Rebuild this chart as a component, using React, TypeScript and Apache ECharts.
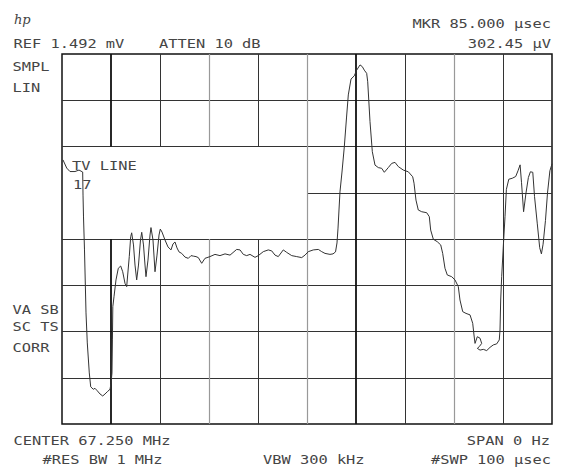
import React, { useEffect, useRef } from "react";
import * as echarts from "echarts";

// Instrument settings
const REF_UV = 1492; // reference level, µV (top of screen)
const SWEEP_US = 100; // sweep time, µs
const Y_DIV_COUNT = 8;
const X_DIVS = [10, 20, 30, 40, 50, 60, 70, 80, 90];
const Y_DIVS = [1, 2, 3, 4, 5, 6, 7];

// Trace: time (µs) and level (µV)
const timeUs = [
  0.2, 0.96, 1.63, 2.65, 3.47, 4.22, 4.29, 4.39, 4.59, 4.9, 5.16, 5.57, 5.86, 6.39, 6.73, 7.2, 7.76, 8.31, 8.78, 9.24,
  9.8, 10.0, 10.2, 10.29, 10.37, 10.61, 11.02, 11.49, 11.98, 12.39, 12.86, 13.2, 13.73, 14.02, 14.22, 14.59, 14.9, 15.24,
  15.61, 16.02, 16.27, 16.63, 16.94, 17.14, 17.55, 17.96, 18.16, 18.57, 18.98, 19.39, 19.8, 20.06, 20.41, 21.02, 21.63,
  22.24, 22.65, 23.06, 23.47, 23.88, 24.43, 25.1, 25.78, 26.33, 26.8, 27.35, 27.82, 28.51, 29.18, 30.2, 31.22, 32.24,
  33.27, 34.29, 35.65, 36.33, 37.0, 37.69, 38.37, 39.39, 40.06, 41.08, 42.1, 42.8, 43.47, 44.14, 45.16, 45.86, 46.88,
  47.9, 48.92, 49.59, 50.27, 51.29, 52.31, 53.0, 53.67, 54.69, 55.31, 55.82, 56.12, 56.33, 56.53, 56.73, 57.14, 57.61,
  58.06, 58.43, 58.98, 59.65, 60.14, 60.82, 61.29, 61.69, 62.18, 62.39, 62.86, 63.33, 63.88, 64.55, 65.24, 65.78, 66.59,
  67.29, 67.96, 68.63, 69.65, 70.67, 71.57, 71.84, 72.24, 72.71, 73.41, 74.43, 74.96, 75.24, 75.78, 76.59, 77.29, 77.69,
  78.16, 78.63, 79.53, 80.2, 80.88, 81.22, 81.78, 82.45, 83.27, 83.82, 84.08, 84.29, 84.76, 85.31, 85.65, 85.16, 84.76,
  85.31, 85.98, 86.67, 87.35, 88.02, 88.71, 89.24, 89.39, 89.53, 89.73, 90.06, 90.41, 90.69, 91.18, 91.9, 92.59, 93.06,
  93.49, 93.78, 94.2, 94.69, 95.18, 95.59, 96.08, 96.43, 97.0, 97.49, 97.84, 98.18, 98.67, 99.08, 99.57, 100.0,
];
const levelUv = [
  1065, 1032, 1018, 1018, 1024, 1016, 923, 835, 702, 448, 327, 206, 150, 140, 144, 134, 121, 113, 121, 130,
  140, 164, 206, 339, 473, 513, 581, 628, 637, 614, 567, 554, 675, 755, 771, 722, 641, 581,
  641, 742, 773, 722, 641, 594, 661, 762, 792, 742, 614, 681, 762, 786, 774, 742, 714,
  702, 726, 734, 710, 694, 688, 673, 668, 679, 677, 675, 671, 648, 668, 675, 684, 679,
  686, 681, 704, 702, 684, 679, 684, 672, 679, 695, 702, 698, 681, 675, 702, 692, 679,
  675, 671, 681, 695, 702, 704, 695, 688, 684, 686, 694, 730, 790, 863, 936, 1016, 1117,
  1234, 1327, 1391, 1404, 1427, 1448, 1441, 1427, 1414, 1380, 1219, 1098, 1044, 1034, 1031, 1015, 1034,
  1051, 1055, 1038, 1024, 1017, 997, 971, 903, 863, 856, 852, 836, 782, 745, 735, 722, 688,
  628, 601, 594, 581, 554, 500, 453, 446, 440, 406, 359, 325, 352, 346, 325, 312, 305,
  298, 301, 296, 309, 319, 323, 339, 379, 500, 594, 715, 836, 946, 987, 991, 998, 1021,
  1045, 973, 856, 931, 994, 1017, 1015, 918, 807, 711, 686, 725, 821, 931, 1021, 1049,
];

// Annotation texts
const headerLeft = ["REF 1.492 mV", "ATTEN 10 dB"];
const headerRight = ["MKR 85.000 µsec", "302.45 µV"];
const sideTop = ["SMPL", "LIN"];
const sideBottom = ["VA SB", "SC TS", "CORR"];
const tvLine = ["TV LINE", "17"];
const footer = ["CENTER 67.250 MHz", "SPAN 0 Hz", "#RES BW 1 MHz", "VBW 300 kHz", "#SWP 100 µsec"];

const FONT = '"DejaVu Sans Mono", "Liberation Mono", monospace';
const TXT = "#454545";

function txt(text: string, x: number, y: number, align: string = "left") {
  return {
    type: "text",
    x,
    y,
    scaleX: 1.28,
    silent: true,
    style: {
      text,
      fill: TXT,
      fontSize: 12,
      fontFamily: FONT,
      textAlign: align,
      textVerticalAlign: "middle",
    },
  };
}

export default function App() {
  const ref = useRef<HTMLDivElement>(null);
  useEffect(() => {
    const chart = echarts.init(ref.current!, null, { renderer: "svg" });
    const perDiv = REF_UV / Y_DIV_COUNT;
    const gridLines: any[] = [];
    const dark = { color: "#333", width: 1, type: "solid" };
    Y_DIVS.forEach((k) => {
      const y = k * perDiv;
      const x0 = k === 5 ? SWEEP_US / 2 : 0;
      gridLines.push([{ coord: [x0, y], lineStyle: dark }, { coord: [SWEEP_US, y] }]);
    });
    X_DIVS.forEach((x) => {
      let ls: any = dark;
      if (x === 10 || x === 60) ls = { color: "#111", width: 1.8, type: "solid" };
      else if (x === 30 || x === 50 || x === 80) ls = { color: "#999", width: 1.2, type: "solid" };
      if (x <= 40) {
        gridLines.push([{ coord: [x, 0], lineStyle: ls }, { coord: [x, 4 * perDiv] }]);
        gridLines.push([{ coord: [x, 6 * perDiv], lineStyle: ls }, { coord: [x, REF_UV] }]);
      } else {
        gridLines.push([{ coord: [x, 0], lineStyle: ls }, { coord: [x, REF_UV] }]);
      }
    });

    const data = timeUs.map((t, i) => [t, levelUv[i]]);

    chart.setOption({
      animation: false,
      backgroundColor: "#fff",
      grid: {
        left: 62,
        top: 54,
        width: 490,
        height: 370,
        show: true,
        borderColor: "#111",
        borderWidth: 1.5,
        backgroundColor: "transparent",
      },
      xAxis: {
        type: "value",
        min: 0,
        max: SWEEP_US,
        axisLine: { show: false },
        axisTick: { show: false },
        axisLabel: { show: false },
        splitLine: { show: false },
      },
      yAxis: {
        type: "value",
        min: 0,
        max: REF_UV,
        axisLine: { show: false },
        axisTick: { show: false },
        axisLabel: { show: false },
        splitLine: { show: false },
      },
      series: [
        {
          type: "line",
          data,
          showSymbol: false,
          symbol: "none",
          silent: true,
          lineStyle: { color: "#333", width: 1 },
          z: 3,
          markLine: {
            silent: true,
            symbol: ["none", "none"],
            label: { show: false },
            animation: false,
            data: gridLines,
            z: 1,
          },
        },
      ],
      graphic: [
        {
          type: "text",
          x: 14,
          y: 19,
          silent: true,
          style: {
            text: "hp",
            fill: "#444",
            fontSize: 13,
            fontStyle: "italic",
            fontFamily: "DejaVu Serif, serif",
            textAlign: "left",
            textVerticalAlign: "middle",
          },
        },
        txt(headerRight[0], 551, 24, "right"),
        txt(headerLeft[0], 13.5, 44),
        txt(headerLeft[1], 159, 44),
        txt(headerRight[1], 551, 44, "right"),
        txt(sideTop[0], 12.5, 67),
        txt(sideTop[1], 12.5, 88),
        txt(tvLine[0], 72, 166),
        txt(tvLine[1], 73, 185),
        txt(sideBottom[0], 12.5, 310),
        txt(sideBottom[1], 12.5, 327),
        txt(sideBottom[2], 12.5, 348),
        txt(footer[0], 13.5, 441),
        txt(footer[1], 550, 441, "right"),
        txt(footer[2], 42.5, 460),
        txt(footer[3], 263, 460),
        txt(footer[4], 551, 460, "right"),
      ],
    });
    return () => chart.dispose();
  }, []);
  return (
    <div
      ref={ref}
      style={{ position: "absolute", left: 0, top: 0, width: 565, height: 468, background: "#fff" }}
    />
  );
}
